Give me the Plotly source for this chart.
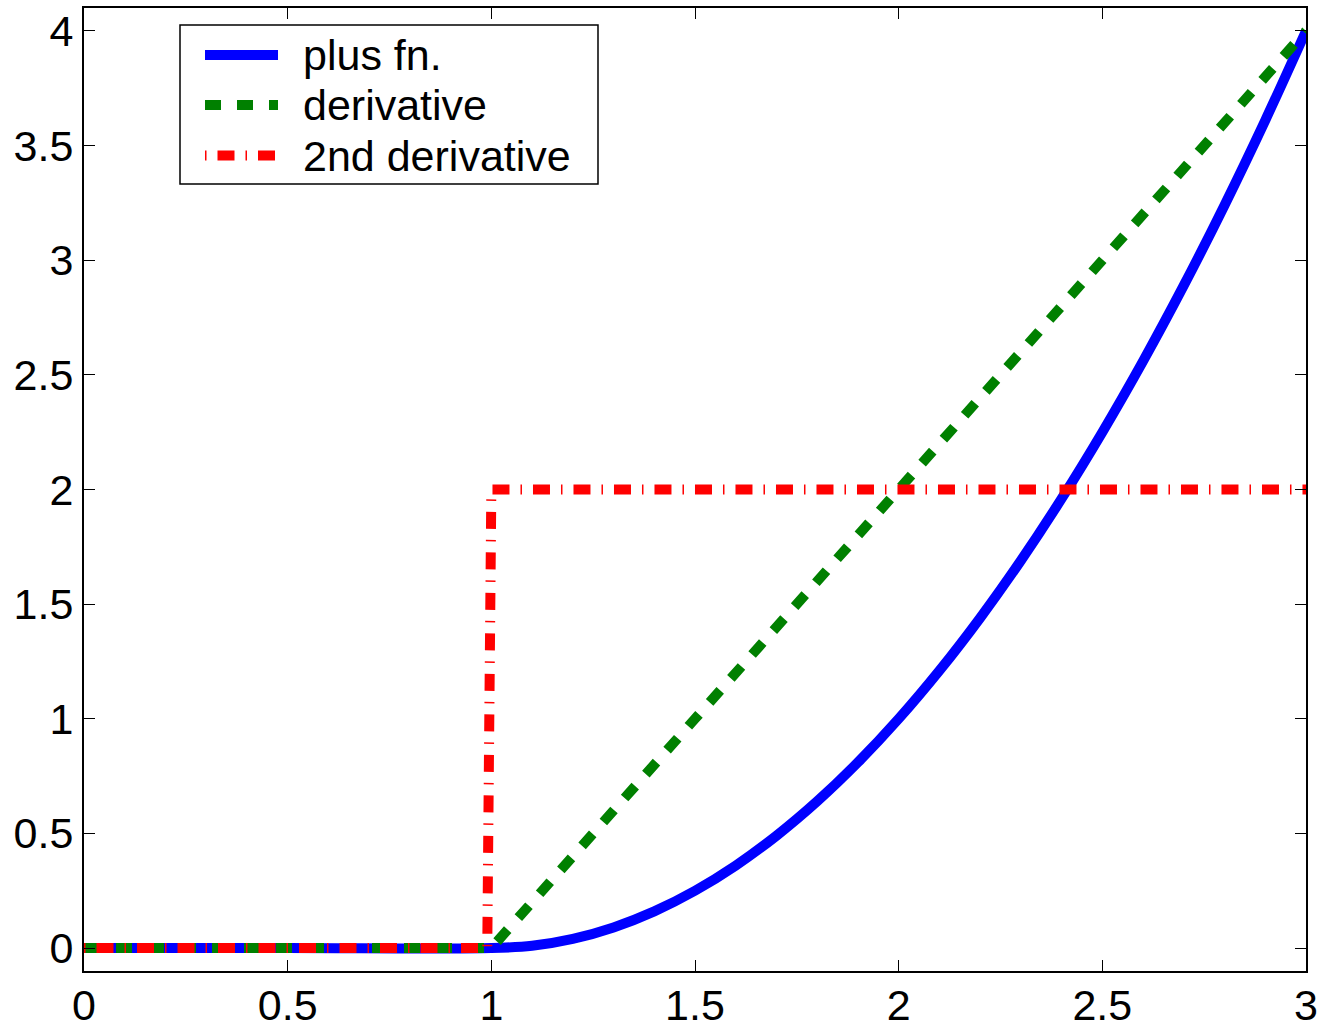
import plotly.graph_objects as go

# plus function
x_plus = [0, 0.5, 1.0, 1.1, 1.2, 1.3, 1.4, 1.5, 1.6, 1.7, 1.8, 1.9, 2.0,
          2.1, 2.2, 2.3, 2.4, 2.5, 2.6, 2.7, 2.8, 2.9, 3.0]
y_plus = [0, 0, 0, 0.01, 0.04, 0.09, 0.16, 0.25, 0.36, 0.49, 0.64, 0.81, 1.0,
          1.21, 1.44, 1.69, 1.96, 2.25, 2.56, 2.89, 3.24, 3.61, 4.0]

# derivative
x_deriv = [0, 1.0, 1.5, 2.0, 2.5, 3.0]
y_deriv = [0, 0, 1.0, 2.0, 3.0, 4.0]

# second derivative
x_deriv2 = [0, 0.99, 1.0, 3.0]
y_deriv2 = [0, 0, 2.0, 2.0]

names = ["plus fn.", "derivative", "2nd derivative"]
x_ticks = [0, 0.5, 1, 1.5, 2, 2.5, 3]
y_ticks = [0, 0.5, 1, 1.5, 2, 2.5, 3, 3.5, 4]

FONT = "Liberation Sans, Arial, sans-serif"
FS = 43
colors = ["#0000ff", "#008000", "#ff0000"]
dashes = ["solid", "16px,16px", "1.5px,11px,17px,11px"]

fig = go.Figure()
fig.add_trace(go.Scatter(x=x_plus, y=y_plus, mode="lines", name=names[0], showlegend=False,
                         line=dict(color=colors[0], width=10, shape="spline")))
fig.add_trace(go.Scatter(x=x_deriv, y=y_deriv, mode="lines", name=names[1], showlegend=False,
                         line=dict(color=colors[1], width=10, dash=dashes[1])))
fig.add_trace(go.Scatter(x=x_deriv2, y=y_deriv2, mode="lines", name=names[2], showlegend=False,
                         line=dict(color=colors[2], width=10, dash=dashes[2])))

axis_common = dict(showgrid=False, zeroline=False, showline=True, linecolor="black",
                   linewidth=2, mirror="ticks", ticks="inside", ticklen=11,
                   tickwidth=1, tickcolor="black", automargin=False,
                   tickfont=dict(family=FONT, size=FS, color="black"))
fig.update_xaxes(range=[0, 3], tickvals=x_ticks, ticktext=[str(v) for v in x_ticks],
                 ticklabelstandoff=-5, **axis_common)
fig.update_yaxes(range=[-0.1, 4.1], tickvals=y_ticks, ticktext=[str(v) for v in y_ticks], **axis_common)

# hand-drawn legend box (paper coordinates)
fig.add_shape(type="rect", xref="paper", yref="paper", x0=0.07856, x1=0.42062,
              y0=0.81724, y1=0.98235, line=dict(color="black", width=1.5),
              fillcolor="white", layer="above")
item_y = [0.95119, 0.89927, 0.84683]
for i in range(3):
    fig.add_shape(type="line", xref="paper", yref="paper", x0=0.09902, x1=0.15876,
                  y0=item_y[i], y1=item_y[i], layer="above",
                  line=dict(color=colors[i], width=10, dash=dashes[i]))
    fig.add_annotation(xref="paper", yref="paper", x=0.1776, y=item_y[i],
                       xanchor="left", yanchor="middle", text=names[i], showarrow=False,
                       font=dict(family=FONT, size=FS, color="black"))

fig.update_layout(
    width=1322, height=1029,
    margin=dict(l=84, r=16, t=8, b=58, autoexpand=False),
    plot_bgcolor="white", paper_bgcolor="white",
    font=dict(family=FONT, size=FS, color="black"),
    showlegend=False,
)
fig.write_html("out.html", config={"displayModeBar": False},
               post_script="document.body.style.margin='0';document.body.style.padding='0';")
